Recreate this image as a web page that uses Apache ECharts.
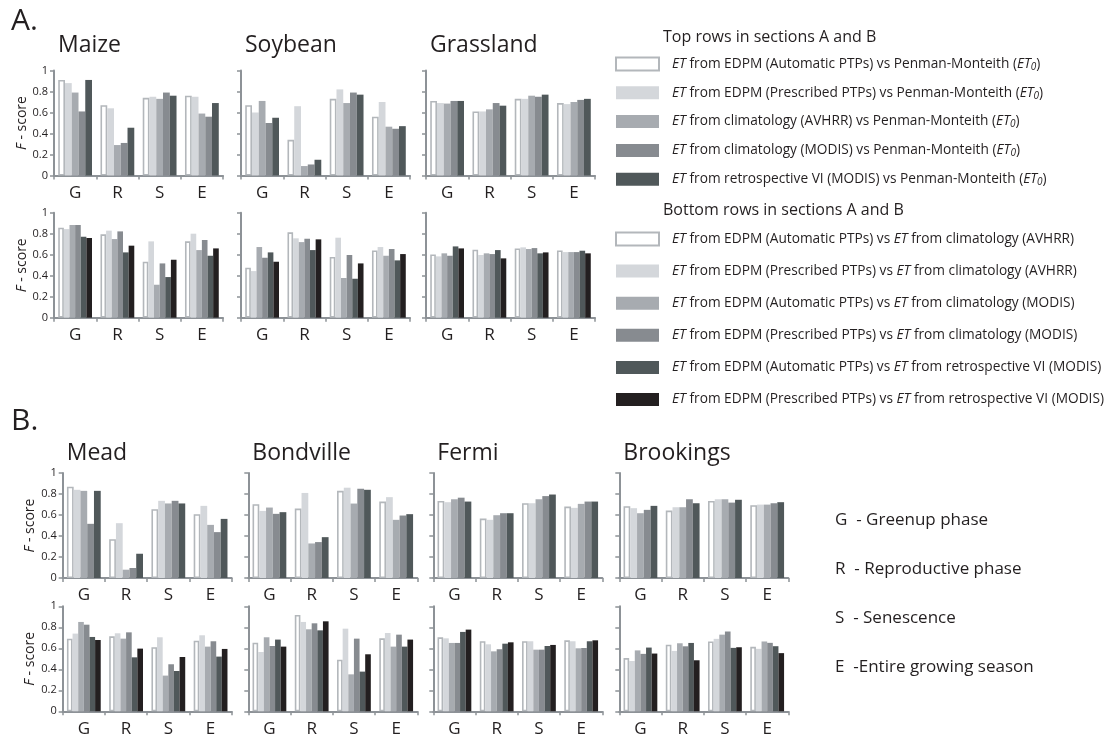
<!DOCTYPE html>
<html>
<head>
<meta charset="utf-8">
<script src="https://cdn.jsdelivr.net/npm/echarts@6/dist/echarts.min.js"></script>
<style>
  html, body { margin: 0; padding: 0; background: #ffffff; }
  #chart { width: 1109px; height: 738px; }
</style>
</head>
<body>
<div id="chart"></div>
<script>
// Growth phases on every x axis
const phases = ['G', 'R', 'S', 'E'];
const yTicks = [0, 0.2, 0.4, 0.6, 0.8, 1];

// Comparison names (top rows: vs Penman-Monteith; bottom rows: EDPM vs other ET products)
const topNames = [
  'ET from EDPM (Automatic PTPs) vs Penman-Monteith (ET0)',
  'ET from EDPM (Prescribed PTPs) vs Penman-Monteith (ET0)',
  'ET from climatology (AVHRR) vs Penman-Monteith (ET0)',
  'ET from climatology (MODIS) vs Penman-Monteith (ET0)',
  'ET from retrospective VI (MODIS) vs Penman-Monteith (ET0)'
];
const bottomNames = [
  'ET from EDPM (Automatic PTPs) vs ET from climatology (AVHRR)',
  'ET from EDPM (Prescribed PTPs) vs ET from climatology (AVHRR)',
  'ET from EDPM (Automatic PTPs) vs ET from climatology (MODIS)',
  'ET from EDPM (Prescribed PTPs) vs ET from climatology (MODIS)',
  'ET from EDPM (Automatic PTPs) vs ET from retrospective VI (MODIS)',
  'ET from EDPM (Prescribed PTPs) vs ET from retrospective VI (MODIS)'
];

// F-scores, one row per comparison, values in G, R, S, E order
// Section A: land cover types
const maizeTop = [
  [0.91, 0.67, 0.74, 0.76],
  [0.88, 0.64, 0.75, 0.75],
  [0.79, 0.29, 0.73, 0.59],
  [0.61, 0.31, 0.79, 0.56],
  [0.91, 0.455, 0.76, 0.69]
];
const soybeanTop = [
  [0.67, 0.34, 0.73, 0.56],
  [0.60, 0.66, 0.82, 0.70],
  [0.71, 0.09, 0.69, 0.465],
  [0.50, 0.105, 0.79, 0.445],
  [0.55, 0.15, 0.77, 0.47]
];
const grasslandTop = [
  [0.71, 0.61, 0.73, 0.69],
  [0.69, 0.61, 0.73, 0.68],
  [0.685, 0.63, 0.76, 0.70],
  [0.71, 0.69, 0.75, 0.72],
  [0.71, 0.665, 0.77, 0.73]
];
const maizeBottom = [
  [0.857, 0.794, 0.533, 0.727],
  [0.844, 0.829, 0.727, 0.80],
  [0.883, 0.749, 0.314, 0.644],
  [0.883, 0.822, 0.517, 0.74],
  [0.771, 0.622, 0.387, 0.59],
  [0.759, 0.686, 0.552, 0.66]
];
const soybeanBottom = [
  [0.476, 0.813, 0.578, 0.641],
  [0.444, 0.756, 0.762, 0.673],
  [0.673, 0.72, 0.378, 0.59],
  [0.571, 0.752, 0.597, 0.654],
  [0.622, 0.644, 0.371, 0.546],
  [0.533, 0.746, 0.517, 0.606]
];
const grasslandBottom = [
  [0.603, 0.648, 0.66, 0.641],
  [0.584, 0.597, 0.67, 0.625],
  [0.613, 0.613, 0.654, 0.625],
  [0.59, 0.606, 0.663, 0.625],
  [0.679, 0.644, 0.613, 0.638],
  [0.66, 0.565, 0.622, 0.613]
];
// Section B: flux tower sites
const meadTop = [
  [0.87, 0.37, 0.655, 0.608],
  [0.84, 0.522, 0.735, 0.687],
  [0.83, 0.079, 0.71, 0.506],
  [0.516, 0.095, 0.735, 0.437],
  [0.83, 0.231, 0.71, 0.563]
];
const bondvilleTop = [
  [0.703, 0.661, 0.83, 0.728],
  [0.639, 0.81, 0.86, 0.77],
  [0.671, 0.329, 0.709, 0.554],
  [0.611, 0.342, 0.85, 0.595],
  [0.627, 0.389, 0.84, 0.608]
];
const fermiTop = [
  [0.734, 0.566, 0.712, 0.68],
  [0.722, 0.554, 0.712, 0.668],
  [0.75, 0.598, 0.75, 0.706],
  [0.765, 0.617, 0.78, 0.728],
  [0.728, 0.617, 0.795, 0.728]
];
const brookingsTop = [
  [0.684, 0.642, 0.734, 0.693],
  [0.665, 0.674, 0.75, 0.699],
  [0.617, 0.674, 0.75, 0.699],
  [0.649, 0.75, 0.718, 0.712],
  [0.687, 0.712, 0.745, 0.722]
];
const meadBottom = [
  [0.692, 0.714, 0.61, 0.673],
  [0.74, 0.743, 0.705, 0.724],
  [0.851, 0.692, 0.34, 0.616],
  [0.825, 0.752, 0.448, 0.667],
  [0.708, 0.514, 0.384, 0.521],
  [0.679, 0.597, 0.517, 0.594]
];
const bondvilleBottom = [
  [0.654, 0.917, 0.492, 0.695],
  [0.565, 0.851, 0.787, 0.746],
  [0.705, 0.781, 0.352, 0.616],
  [0.622, 0.838, 0.692, 0.73],
  [0.683, 0.771, 0.378, 0.616],
  [0.616, 0.857, 0.543, 0.683]
];
const fermiBottom = [
  [0.705, 0.667, 0.667, 0.676],
  [0.695, 0.638, 0.667, 0.667],
  [0.651, 0.571, 0.587, 0.60],
  [0.651, 0.591, 0.587, 0.603],
  [0.756, 0.644, 0.622, 0.667],
  [0.778, 0.657, 0.632, 0.676]
];
const brookingsBottom = [
  [0.507, 0.635, 0.665, 0.614],
  [0.479, 0.575, 0.69, 0.595],
  [0.58, 0.648, 0.73, 0.665],
  [0.547, 0.619, 0.76, 0.652],
  [0.607, 0.651, 0.604, 0.62],
  [0.55, 0.486, 0.61, 0.554]
];

const phaseNotes = [
  'G  - Greenup phase',
  'R  - Reproductive phase',
  'S  - Senescence',
  'E  -Entire growing season'
];

// ---- styling ----
const FONT = '"Open Sans", "Noto Sans", sans-serif';
const INK = '#231f20';
const AXIS = '#8d9297';
const fills = ['#ffffff', '#d4d7db', '#a7abb0', '#878b90', '#50585a', '#231f20'];
const WHITE_EDGE = '#b3b7bb';

// panel placement: [left, top] of each plot area
const PW = 169, PH = 105;
const panels = [
  { title: 'Maize',     vals: maizeTop,        names: topNames,    x: 54,    y: 70.5,  first: true, tOff: 37 },
  { title: 'Soybean',   vals: soybeanTop,      names: topNames,    x: 241,   y: 70.5,  tOff: 37 },
  { title: 'Grassland', vals: grasslandTop,    names: topNames,    x: 426,   y: 70.5,  tOff: 37 },
  { title: null,        vals: maizeBottom,     names: bottomNames, x: 54,    y: 212.7, first: true },
  { title: null,        vals: soybeanBottom,   names: bottomNames, x: 241,   y: 212.7 },
  { title: null,        vals: grasslandBottom, names: bottomNames, x: 426,   y: 212.7 },
  { title: 'Mead',      vals: meadTop,         names: topNames,    x: 62.7,  y: 473, first: true, tOff: 31 },
  { title: 'Bondville', vals: bondvilleTop,    names: topNames,    x: 248.3, y: 473, tOff: 31 },
  { title: 'Fermi',     vals: fermiTop,        names: topNames,    x: 433.3, y: 473, tOff: 31 },
  { title: 'Brookings', vals: brookingsTop,    names: topNames,    x: 619.3, y: 473, tOff: 31 },
  { title: null,        vals: meadBottom,      names: bottomNames, x: 62.7,  y: 606.3, first: true },
  { title: null,        vals: bondvilleBottom, names: bottomNames, x: 248.3, y: 606.3 },
  { title: null,        vals: fermiBottom,     names: bottomNames, x: 433.3, y: 606.3 },
  { title: null,        vals: brookingsBottom, names: bottomNames, x: 619.3, y: 606.3 }
];

const grids = [], xAxes = [], yAxes = [], series = [], graphics = [];

panels.forEach((p, i) => {
  grids.push({ left: p.x, top: p.y, width: PW, height: PH, containLabel: false, outerBoundsMode: 'none' });
  xAxes.push({
    type: 'category', gridIndex: i, data: phases, boundaryGap: true,
    axisLine: { lineStyle: { color: AXIS, width: 2 } },
    axisTick: { show: true, length: 4, alignWithLabel: false, lineStyle: { color: AXIS, width: 1.5 } },
    axisLabel: { fontFamily: FONT, fontSize: 17, color: INK, margin: 9 }
  });
  yAxes.push({
    type: 'value', gridIndex: i, min: 0, max: 1, interval: 0.2,
    splitLine: { show: false },
    axisLine: { show: true, lineStyle: { color: AXIS, width: 2 } },
    axisTick: { show: true, length: 4, lineStyle: { color: AXIS, width: 1.5 } },
    axisLabel: { show: !!p.first, fontFamily: FONT, fontSize: 11, color: INK, margin: 6,
      formatter: v => (yTicks.indexOf(Math.round(v * 10) / 10) >= 0 ? String(Math.round(v * 10) / 10) : '') },
    name: p.first ? '{i|F} - score' : '',
    nameLocation: 'middle', nameRotate: 90, nameGap: 23,
    nameTextStyle: { fontFamily: FONT, fontSize: 14, color: INK,
      rich: { i: { fontFamily: FONT, fontSize: 14, fontStyle: 'italic', color: INK } } }
  });
  p.vals.forEach((row, j) => {
    series.push({
      type: 'bar', name: p.names[j], xAxisIndex: i, yAxisIndex: i, data: row,
      barGap: '0%', barCategoryGap: '20%', silent: true,
      itemStyle: j === 0
        ? { color: fills[0], borderColor: WHITE_EDGE, borderWidth: 1.6 }
        : { color: fills[j], borderWidth: 0 }
    });
  });
  if (p.title) {
    graphics.push({ type: 'text', left: p.x + 4, top: p.y - p.tOff,
      style: { text: p.title, font: '23px ' + FONT, fill: INK } });
  }
});

// section letters
graphics.push({ type: 'text', left: 11, top: 6, style: { text: 'A.', font: '30px ' + FONT, fill: INK } });
graphics.push({ type: 'text', left: 11, top: 406, style: { text: 'B.', font: '30px ' + FONT, fill: INK } });

// legend headings
graphics.push({ type: 'text', left: 663, top: 29, style: { text: 'Top rows in sections A and B', font: '16px ' + FONT, fill: INK } });
graphics.push({ type: 'text', left: 663, top: 202, style: { text: 'Bottom rows in sections A and B', font: '16px ' + FONT, fill: INK } });

// phase key
phaseNotes.forEach((t, k) => {
  graphics.push({ type: 'text', left: 835, top: 512 + k * 49,
    style: { text: t, font: '17px ' + FONT, fill: INK } });
});

const legendText = n => n.replace(/ET0/g, '{i|ET}{s|0}').replace(/ET /g, '{i|ET} ');
const legendStyle = {
  fontFamily: FONT, fontSize: 13.7, color: INK, lineHeight: 16, padding: [0, 0, 0, 8],
  rich: {
    i: { fontFamily: FONT, fontSize: 13.7, fontStyle: 'italic', color: INK, lineHeight: 16 },
    s: { fontFamily: FONT, fontSize: 10, fontStyle: 'italic', color: INK, lineHeight: 16, verticalAlign: 'bottom' }
  }
};

const option = {
  animation: false,
  backgroundColor: '#ffffff',
  grid: grids,
  xAxis: xAxes,
  yAxis: yAxes,
  series: series,
  legend: [
    { data: topNames, orient: 'vertical', left: 615, top: 56, padding: 0, itemWidth: 43, itemHeight: 13,
      itemGap: 12.8, icon: 'rect', selectedMode: false, formatter: legendText, textStyle: legendStyle },
    { data: bottomNames, orient: 'vertical', left: 615, top: 231, padding: 0, itemWidth: 43, itemHeight: 13,
      itemGap: 16.1, icon: 'rect', selectedMode: false, formatter: legendText, textStyle: legendStyle }
  ],
  graphic: graphics
};

const chart = echarts.init(document.getElementById('chart'), null, { renderer: 'canvas' });
chart.setOption(option);
</script>
</body>
</html>
